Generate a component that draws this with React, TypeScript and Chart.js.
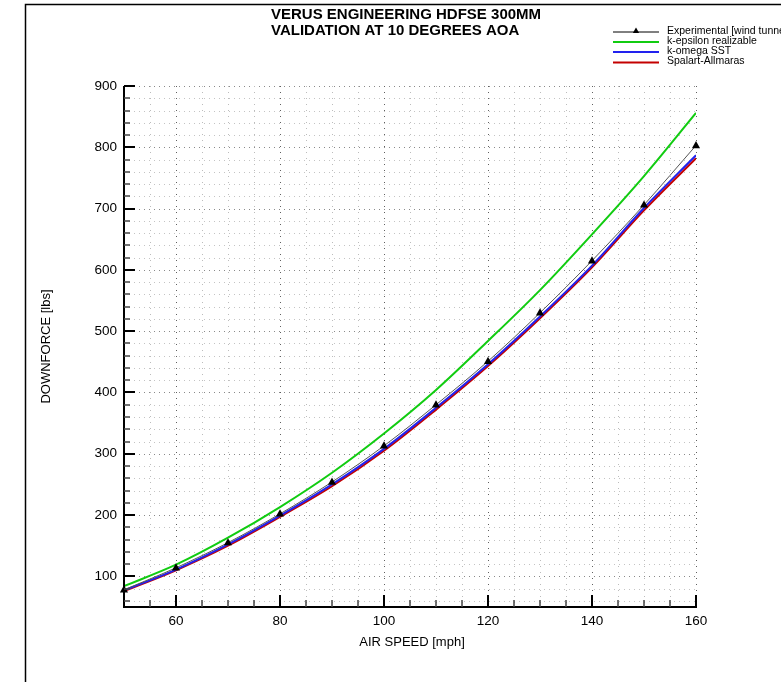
import React, { useEffect, useRef } from "react";
import { Chart, registerables } from "chart.js";

Chart.register(...registerables);

const TITLE_LINES = ["VERUS ENGINEERING HDFSE 300MM", "VALIDATION AT 10 DEGREES AOA"];
const X_TITLE = "AIR SPEED [mph]";
const Y_TITLE = "DOWNFORCE [lbs]";

const airSpeed = [50, 60, 70, 80, 90, 100, 110, 120, 130, 140, 150, 160];
const experimental = [78, 114, 155, 202, 254, 313, 380, 451, 530, 615, 706, 803];
const kEpsilon = [84, 119, 163, 213, 269, 333, 404, 484, 567, 658, 753, 856];
const kOmega = [77, 111, 152, 199, 250, 308, 375, 446, 524, 607, 701, 787];
const spalart = [76, 110, 150, 197, 247, 305, 372, 443, 521, 604, 697, 782];

const seriesNames = ["Experimental [wind tunnel]", "k-epsilon realizable", "k-omega SST", "Spalart-Allmaras"];
const seriesColors = ["#333333", "#11cc11", "#2222ee", "#c40000"];

const xMajorTicks = [60, 80, 100, 120, 140, 160];
const xMinorTicks = [55, 65, 70, 75, 85, 90, 95, 105, 110, 115, 125, 130, 135, 145, 150, 155];
const yMajorTicks = [100, 200, 300, 400, 500, 600, 700, 800, 900];
const yMinorTicks = [60, 80, 120, 140, 160, 180, 220, 240, 260, 280, 320, 340, 360, 380, 420, 440, 460, 480, 520, 540, 560, 580, 620, 640, 660, 680, 720, 740, 760, 780, 820, 840, 860, 880];

const FONT = "'Liberation Sans', Arial, sans-serif";

function drawTriangle(ctx: CanvasRenderingContext2D, x: number, y: number, r: number) {
  ctx.beginPath();
  ctx.moveTo(x, y - r);
  ctx.lineTo(x + r * 0.9, y + r * 0.6);
  ctx.lineTo(x - r * 0.9, y + r * 0.6);
  ctx.closePath();
  ctx.fill();
}

const decorPlugin = {
  id: "decor",
  beforeDatasetsDraw(chart: any) {
    const ctx: CanvasRenderingContext2D = chart.ctx;
    const xs = chart.scales.x;
    const ys = chart.scales.y;
    const { left, right, top, bottom } = chart.chartArea;
    ctx.save();
    ctx.lineWidth = 1;
    const hLines = [...yMinorTicks.map((v) => [v, 0]), ...yMajorTicks.map((v) => [v, 1])];
    for (const [v, major] of hLines) {
      const y = Math.round(ys.getPixelForValue(v)) + 0.5;
      ctx.strokeStyle = major ? "#8a8a8a" : "#c4c4c4";
      ctx.setLineDash([1, 4]);
      ctx.beginPath();
      ctx.moveTo(left, y);
      ctx.lineTo(right, y);
      ctx.stroke();
    }
    const vLines = [...xMinorTicks.map((v) => [v, 0]), ...xMajorTicks.map((v) => [v, 1])];
    for (const [v, major] of vLines) {
      const x = Math.round(xs.getPixelForValue(v)) + 0.5;
      ctx.strokeStyle = major ? "#606060" : "#bcbcbc";
      ctx.setLineDash([1, 5]);
      ctx.beginPath();
      ctx.moveTo(x, top);
      ctx.lineTo(x, bottom);
      ctx.stroke();
    }
    ctx.restore();
  },
  afterDatasetsDraw(chart: any) {
    const ctx: CanvasRenderingContext2D = chart.ctx;
    const xs = chart.scales.x;
    const ys = chart.scales.y;
    const { left, right, top, bottom } = chart.chartArea;
    ctx.save();
    ctx.setLineDash([]);
    ctx.fillStyle = "#000000";
    const meta = chart.getDatasetMeta(0);
    meta.data.forEach((pt: any) => drawTriangle(ctx, pt.x, pt.y, 4.5));

    ctx.strokeStyle = "#000000";
    ctx.lineWidth = 2;
    ctx.beginPath();
    ctx.moveTo(left, top);
    ctx.lineTo(left, bottom);
    ctx.lineTo(right + 1, bottom);
    ctx.stroke();

    ctx.lineWidth = 2;
    for (const v of yMajorTicks) {
      const y = Math.round(ys.getPixelForValue(v));
      ctx.beginPath();
      ctx.moveTo(left, y);
      ctx.lineTo(left + 11, y);
      ctx.stroke();
    }
    for (const v of xMajorTicks) {
      const x = Math.round(xs.getPixelForValue(v));
      ctx.beginPath();
      ctx.moveTo(x, bottom);
      ctx.lineTo(x, bottom - 12);
      ctx.stroke();
    }
    ctx.lineWidth = 1.5;
    ctx.strokeStyle = "#444444";
    for (const v of yMinorTicks) {
      const y = Math.round(ys.getPixelForValue(v));
      ctx.beginPath();
      ctx.moveTo(left, y);
      ctx.lineTo(left + 6, y);
      ctx.stroke();
    }
    for (const v of xMinorTicks) {
      const x = Math.round(xs.getPixelForValue(v));
      ctx.beginPath();
      ctx.moveTo(x, bottom);
      ctx.lineTo(x, bottom - 7);
      ctx.stroke();
    }

    ctx.fillStyle = "#000000";
    ctx.font = `13.5px ${FONT}`;
    ctx.textAlign = "right";
    ctx.textBaseline = "middle";
    for (const v of yMajorTicks) {
      ctx.fillText(String(v), left - 7, ys.getPixelForValue(v));
    }
    ctx.textAlign = "center";
    for (const v of xMajorTicks) {
      ctx.fillText(String(v), xs.getPixelForValue(v), bottom + 14);
    }

    ctx.font = `13px ${FONT}`;
    ctx.fillText(X_TITLE, (left + right) / 2 + 2, bottom + 35);
    ctx.save();
    ctx.translate(46, (top + bottom) / 2);
    ctx.rotate(-Math.PI / 2);
    ctx.fillText(Y_TITLE, 0, 0);
    ctx.restore();

    ctx.font = `bold 15px ${FONT}`;
    ctx.textAlign = "left";
    ctx.textBaseline = "alphabetic";
    ctx.fillText(TITLE_LINES[0], 271, 18.5);
    ctx.fillText(TITLE_LINES[1], 271, 35);

    ctx.font = `10.5px ${FONT}`;
    ctx.textBaseline = "middle";
    const legY = [31, 41, 51, 61.5];
    seriesNames.forEach((name, i) => {
      const y = legY[i];
      ctx.strokeStyle = i === 0 ? "#000000" : seriesColors[i];
      ctx.lineWidth = i === 0 ? 1 : 2;
      ctx.beginPath();
      ctx.moveTo(613, y + 1);
      ctx.lineTo(659, y + 1);
      ctx.stroke();
      if (i === 0) drawTriangle(ctx, 636, y, 3.5);
      ctx.fillStyle = "#000000";
      ctx.fillText(name, 667, y);
    });

    ctx.strokeStyle = "#000000";
    ctx.lineWidth = 1.5;
    ctx.beginPath();
    ctx.moveTo(25.5, chart.height);
    ctx.lineTo(25.5, 4.5);
    ctx.lineTo(chart.width, 4.5);
    ctx.stroke();
    ctx.restore();
  },
};

export default function App() {
  const ref = useRef<HTMLCanvasElement | null>(null);
  useEffect(() => {
    if (!ref.current) return;
    const mk = (vals: number[]) => airSpeed.map((x, i) => ({ x, y: vals[i] }));
    const chart = new Chart(ref.current, {
      type: "line",
      data: {
        datasets: [
          { label: seriesNames[0], data: mk(experimental), borderColor: "#555555", borderWidth: 1, pointRadius: 0, cubicInterpolationMode: "monotone" },
          { label: seriesNames[1], data: mk(kEpsilon), borderColor: seriesColors[1], borderWidth: 2, pointRadius: 0, cubicInterpolationMode: "monotone" },
          { label: seriesNames[2], data: mk(kOmega), borderColor: seriesColors[2], borderWidth: 2, pointRadius: 0, cubicInterpolationMode: "monotone" },
          { label: seriesNames[3], data: mk(spalart), borderColor: seriesColors[3], borderWidth: 2, pointRadius: 0, cubicInterpolationMode: "monotone" },
        ],
      },
      options: {
        responsive: false,
        animation: false,
        devicePixelRatio: 1,
        layout: { padding: { left: 124, right: 85, top: 86, bottom: 75 } },
        plugins: { legend: { display: false }, title: { display: false }, tooltip: { enabled: false } },
        scales: {
          x: { type: "linear", min: 50, max: 160, display: false },
          y: { type: "linear", min: 50, max: 900, display: false },
        },
      },
      plugins: [decorPlugin],
    } as any);
    return () => chart.destroy();
  }, []);
  return (
    <div style={{ position: "absolute", left: 0, top: 0, width: 781, height: 682, background: "#ffffff" }}>
      <canvas ref={ref} width={781} height={682} style={{ display: "block" }} />
    </div>
  );
}
